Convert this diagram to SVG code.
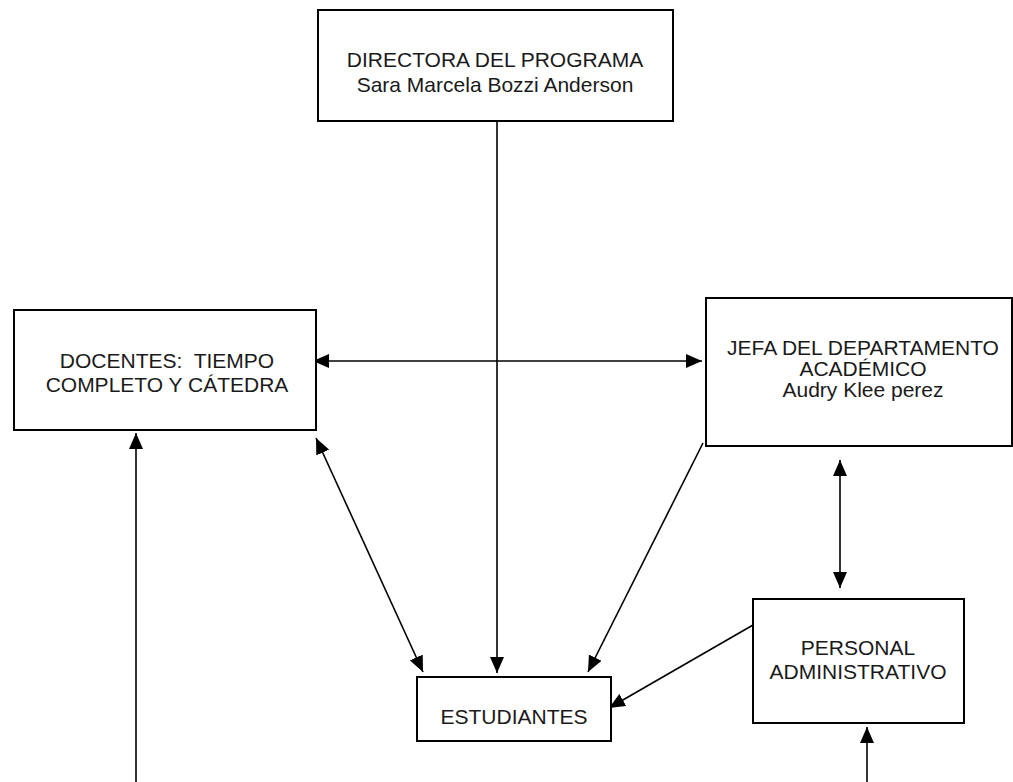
<svg xmlns="http://www.w3.org/2000/svg" width="1013" height="782" viewBox="0 0 1013 782">
<style>
.box{fill:#fff;stroke:#000;stroke-width:2}
.t{font-family:"Liberation Sans",Arial,sans-serif;font-size:21px;fill:#1a1a1a;text-anchor:middle}
.c{stroke:#000;stroke-width:1.6;fill:none}
</style>
<defs>
<marker id="ah" markerUnits="userSpaceOnUse" markerWidth="16" markerHeight="14" refX="16" refY="7" orient="auto-start-reverse">
<path d="M0,0 L16,7 L0,14 Z" fill="#000"/>
</marker>
</defs>
<rect width="1013" height="782" fill="#fff"/>
<g id="connectors">
<line class="c" x1="497" y1="121" x2="497" y2="673" marker-end="url(#ah)"/>
<line class="c" x1="313" y1="361" x2="702" y2="361" marker-start="url(#ah)" marker-end="url(#ah)"/>
<line class="c" x1="840" y1="460" x2="840" y2="588" marker-start="url(#ah)" marker-end="url(#ah)"/>
<line class="c" x1="316" y1="438" x2="423" y2="672" marker-start="url(#ah)" marker-end="url(#ah)"/>
<line class="c" x1="703" y1="443" x2="588" y2="672" marker-end="url(#ah)"/>
<line class="c" x1="753" y1="625" x2="609" y2="708" marker-end="url(#ah)"/>
<line class="c" x1="136" y1="782" x2="136" y2="433" marker-end="url(#ah)"/>
<line class="c" x1="867" y1="782" x2="867" y2="727" marker-end="url(#ah)"/>
</g>
<g id="directora">
<rect class="box" x="318" y="10" width="355" height="111"/>
<text class="t" x="495" y="67">DIRECTORA DEL PROGRAMA</text>
<text class="t" x="495" y="92">Sara Marcela Bozzi Anderson</text>
</g>
<g id="docentes">
<rect class="box" x="14" y="310" width="302" height="120"/>
<text class="t" x="167" y="368" xml:space="preserve">DOCENTES:  TIEMPO</text>
<text class="t" x="167" y="392">COMPLETO Y CÁTEDRA</text>
</g>
<g id="jefa">
<rect class="box" x="706" y="298" width="306" height="148"/>
<text class="t" x="863" y="355">JEFA DEL DEPARTAMENTO</text>
<text class="t" x="863" y="376">ACADÉMICO</text>
<text class="t" x="863" y="397">Audry Klee perez</text>
</g>
<g id="personal">
<rect class="box" x="753" y="599" width="211" height="124"/>
<text class="t" x="858" y="655">PERSONAL</text>
<text class="t" x="858" y="679">ADMINISTRATIVO</text>
</g>
<g id="estudiantes">
<rect class="box" x="417" y="677" width="194" height="64"/>
<text class="t" x="514" y="724">ESTUDIANTES</text>
</g>
</svg>
